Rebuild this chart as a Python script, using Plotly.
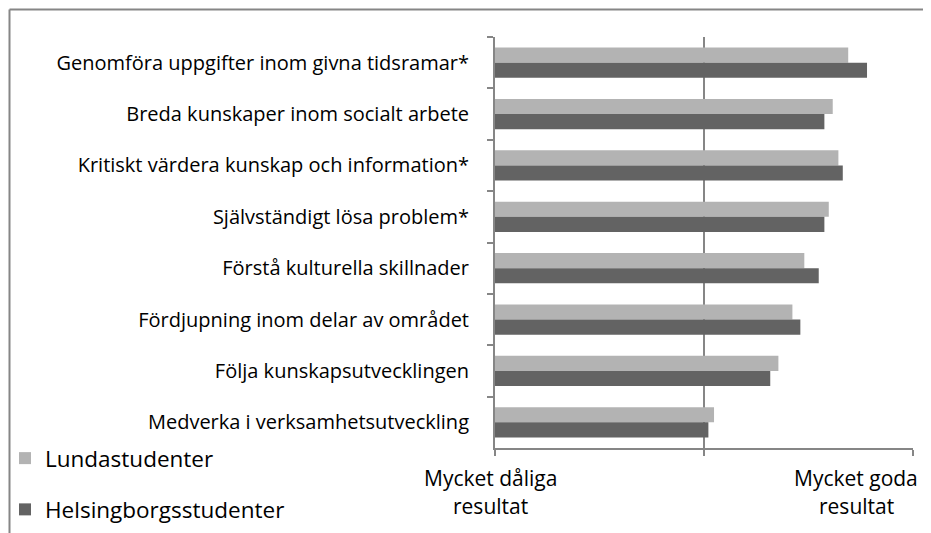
import plotly.graph_objects as go

categories = [
    "Genomföra uppgifter inom givna tidsramar*",
    "Breda kunskaper inom socialt arbete",
    "Kritiskt värdera kunskap och information*",
    "Självständigt lösa problem*",
    "Förstå kulturella skillnader",
    "Fördjupning inom delar av området",
    "Följa kunskapsutvecklingen",
    "Medverka i verksamhetsutveckling",
]
lund = [1.69, 1.616, 1.643, 1.597, 1.48, 1.423, 1.356, 1.048]
helsingborg = [1.78, 1.576, 1.664, 1.576, 1.549, 1.461, 1.317, 1.021]
series_names = ["Lundastudenter", "Helsingborgsstudenter"]
tick_values = [0, 1, 2]
low_label = ["Mycket dåliga", "resultat"]
high_label = ["Mycket goda", "resultat"]

# page has an 8px body margin; figure sized to fill the rest of the window
OFF = 8
W, H = 931 - OFF, 533 - OFF
# plot area in screen pixels
PL, PR, PT, PB = 495, 913, 37, 448
L, R, T, B = PL - OFF, W - (PR - OFF), PT - OFF, H - (PB - OFF)
pw, ph = PR - PL, PB - PT

def px_x(p):
    return (p - PL) / pw

def px_y(p):
    return (PB - p) / ph

FONT = "Open Sans"
AX = "#868686"

fig = go.Figure()
fig.add_trace(go.Bar(y=categories, x=lund, orientation="h", name=series_names[0],
                     marker=dict(color="#b3b3b3", line=dict(width=0)), legendgroup="a"))
fig.add_trace(go.Bar(y=categories, x=helsingborg, orientation="h", name=series_names[1],
                     marker=dict(color="#636363", line=dict(width=0)), legendgroup="b"))

annotations = []
for lbl, sx in ((low_label, 490.7), (high_label, 856)):
    for i, line in enumerate(lbl):
        annotations.append(dict(x=px_x(sx), xref="paper", y=px_y(478 + i * 28), yref="paper",
                                text=line, showarrow=False, xanchor="center", yanchor="middle",
                                font=dict(family=FONT, size=21, color="#000")))

shapes = [
    dict(type="line", xref="paper", yref="paper", x0=px_x(9.5), x1=px_x(945), y0=px_y(9.5), y1=px_y(9.5),
         line=dict(color=AX, width=2)),
    dict(type="line", xref="paper", yref="paper", x0=px_x(9.5), x1=px_x(9.5), y0=px_y(9.5), y1=px_y(545),
         line=dict(color=AX, width=2)),
]

fig.update_layout(
    width=W, height=H,
    margin=dict(l=L, r=R, t=T, b=B, autoexpand=False),
    paper_bgcolor="white", plot_bgcolor="white",
    barmode="group", bargap=0.41, bargroupgap=0,
    font=dict(family=FONT, color="#000"),
    showlegend=True,
    legend=dict(x=px_x(5), xanchor="left", y=px_y(437), yanchor="top",
                font=dict(family=FONT, size=22.5, color="#000"),
                traceorder="grouped", tracegroupgap=19, bgcolor="rgba(0,0,0,0)"),
    xaxis=dict(range=[0, 2], tickvals=tick_values, ticktext=["", "", ""],
               showgrid=True, gridcolor=AX, gridwidth=2,
               showline=True, linecolor=AX, linewidth=2,
               ticks="outside", ticklen=6, tickcolor=AX, tickwidth=2,
               zeroline=False, fixedrange=True),
    yaxis=dict(autorange="reversed", tickson="boundaries",
               showline=True, linecolor=AX, linewidth=2,
               ticks="outside", ticklen=6, tickcolor=AX, tickwidth=2,
               tickfont=dict(family=FONT, size=20, color="#000"),
               ticklabelstandoff=20, showgrid=False, fixedrange=True),
    annotations=annotations, shapes=shapes,
)

fig.write_html("out.html")
